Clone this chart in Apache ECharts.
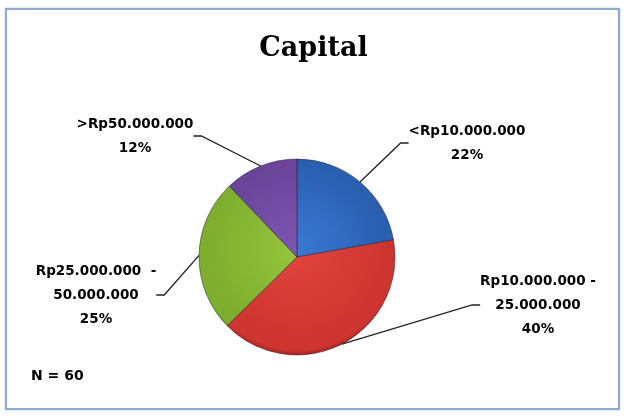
<!DOCTYPE html>
<html>
<head>
<meta charset="utf-8">
<script src="https://cdn.jsdelivr.net/npm/echarts@6/dist/echarts.min.js"></script>
<style>
  html, body { margin: 0; padding: 0; background: #ffffff; }
  #frame { position: absolute; left: 5px; top: 8px; width: 611px; height: 398px;
           border: 2px solid #8eaad0; box-shadow: 0 0 2px #b8cbe4; background: #fff; }
  #chart { position: absolute; left: 0; top: 0; width: 627px; height: 420px; }
</style>
</head>
<body>
<div id="frame"></div>
<div id="chart"></div>
<script>
// Capital distribution of respondents (N = 60)
const categories = ['<Rp10.000.000', 'Rp10.000.000 -\n25.000.000', 'Rp25.000.000  -\n50.000.000', '>Rp50.000.000'];
const shares = [22, 40, 25, 12];
const sliceColors = [
  ['#3a78d4', '#2a5fb0', '#1d4a90'],
  ['#e2443d', '#cf3530', '#a82420'],
  ['#95c63e', '#7fae2e', '#5f8a1c'],
  ['#7d55b2', '#6a4499', '#4e2f78']
];
// label anchor positions (centre of each text block)
const labelSpots = [[467, 143], [538, 305], [96, 295], [135, 136]];

const centerX = 297, centerY = 257, pieR = 98;

const chart = echarts.init(document.getElementById('chart'), null, { renderer: 'canvas' });

const data = categories.map((name, i) => ({
  name: name,
  value: shares[i],
  itemStyle: {
    color: {
      type: 'radial', global: true, x: centerX, y: centerY - 8, r: pieR + 8,
      colorStops: [
        { offset: 0, color: sliceColors[i][0] },
        { offset: 0.82, color: sliceColors[i][1] },
        { offset: 0.95, color: sliceColors[i][1] },
        { offset: 1, color: sliceColors[i][2] }
      ]
    }
  }
}));

chart.setOption({
  animation: false,
  title: {
    text: 'Capital',
    left: 'center',
    top: 30,
    textStyle: { fontFamily: 'DejaVu Serif', fontWeight: 'bold', fontSize: 27, color: '#000' }
  },
  graphic: [{
    type: 'text', left: 31, top: 369,
    style: { text: 'N = 60', font: 'bold 14px "DejaVu Sans"', fill: '#000' }
  }],
  series: [{
    type: 'pie',
    center: [centerX, centerY],
    radius: [0, pieR],
    startAngle: 90,
    clockwise: true,
    data: data,
    itemStyle: { borderColor: 'rgba(30,30,50,0.5)', borderWidth: 1 },
    label: {
      show: true,
      formatter: p => p.name + '\n' + p.value + '%',
      fontFamily: 'DejaVu Sans',
      fontWeight: 'bold',
      fontSize: 13.5,
      lineHeight: 24,
      color: '#000',
      align: 'center'
    },
    labelLine: {
      show: true,
      length: 30,
      length2: 8,
      lineStyle: { color: '#222', width: 1.3 }
    },
    labelLayout: function (params) {
      const spot = labelSpots[params.dataIndex];
      return { x: spot[0], y: spot[1], align: 'center', verticalAlign: 'middle' };
    }
  }]
});
</script>
</body>
</html>
